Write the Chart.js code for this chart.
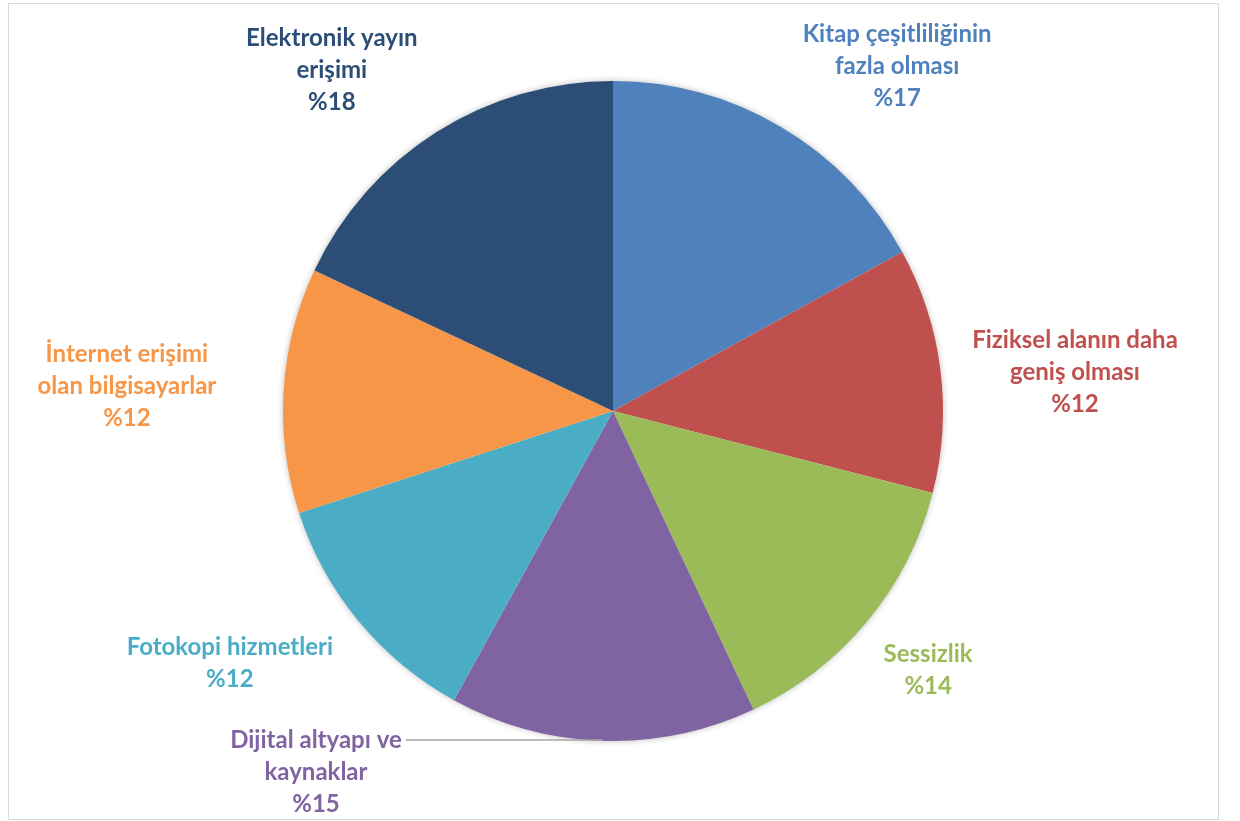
<!DOCTYPE html>
<html>
<head>
<meta charset="utf-8">
<script src="https://cdn.jsdelivr.net/npm/chart.js@4.4.1/dist/chart.umd.min.js"></script>
<style>
  html, body { margin: 0; padding: 0; background: #fff; }
  #wrap { position: relative; width: 1240px; height: 821px; }
  #frame { position: absolute; left: 8px; top: 3px; width: 1209px; height: 815px; border: 1px solid #d9d9d9; pointer-events: none; }
</style>
</head>
<body>
<div id="wrap">
  <canvas id="c" width="1240" height="821"></canvas>
  <div id="frame"></div>
</div>
<script>
// Data
const categories = [
  ["Kitap çeşitliliğinin", "fazla olması"],
  ["Fiziksel alanın daha", "geniş olması"],
  ["Sessizlik"],
  ["Dijital altyapı ve", "kaynaklar"],
  ["Fotokopi hizmetleri"],
  ["İnternet erişimi", "olan bilgisayarlar"],
  ["Elektronik yayın", "erişimi"]
];
const values = [17, 12, 14, 15, 12, 12, 18];
const sliceColors = ["#4F81BD", "#C0504D", "#9BBB59", "#8064A2", "#4BACC6", "#F79646", "#2C4D75"];

// Label layout (text block center relative to pie center, in radius units)
const labelLayout = [
  { dx: 0.861, dy: -1.045 },
  { dx: 1.400, dy: -0.118 },
  { dx: 0.955, dy: 0.785 },
  { dx: -0.900, dy: 1.094, leader: true },
  { dx: -1.161, dy: 0.764 },
  { dx: -1.473, dy: -0.076 },
  { dx: -0.852, dy: -1.033 }
];

const FONT = "bold 24px Lato, 'Open Sans', sans-serif";
const LINE_H = 32;

const pieShadow = {
  id: 'pieShadow',
  beforeDatasetsDraw(chart) {
    const arc = chart.getDatasetMeta(0).data[0];
    if (!arc) return;
    const ctx = chart.ctx;
    ctx.save();
    ctx.shadowColor = 'rgba(0,0,0,0.35)';
    ctx.shadowBlur = 7;
    ctx.shadowOffsetX = 0;
    ctx.shadowOffsetY = 0;
    ctx.fillStyle = '#ffffff';
    ctx.beginPath();
    ctx.arc(arc.x, arc.y, arc.outerRadius - 1, 0, Math.PI * 2);
    ctx.fill();
    ctx.restore();
  }
};

const outerLabels = {
  id: 'outerLabels',
  afterDatasetsDraw(chart) {
    const meta = chart.getDatasetMeta(0);
    const ctx = chart.ctx;
    ctx.save();
    ctx.font = FONT;
    ctx.textAlign = 'center';
    ctx.textBaseline = 'middle';
    meta.data.forEach((arc, i) => {
      const r = arc.outerRadius;
      const lay = labelLayout[i];
      const cx = arc.x + lay.dx * r;
      const cy = arc.y + lay.dy * r;
      const lines = categories[i].concat(['%' + values[i]]);
      const top = cy - (lines.length - 1) * LINE_H / 2;
      ctx.fillStyle = sliceColors[i];
      lines.forEach((t, k) => ctx.fillText(t, cx, top + k * LINE_H));
      if (lay.leader) {
        const mid = (arc.startAngle + arc.endAngle) / 2;
        const ex = arc.x + Math.cos(mid) * r;
        const w = ctx.measureText(lines[0]).width;
        ctx.strokeStyle = '#a6a6a6';
        ctx.lineWidth = 1.5;
        ctx.beginPath();
        ctx.moveTo(cx + w / 2 + 4, top);
        ctx.lineTo(ex, top);
        ctx.stroke();
      }
    });
    ctx.restore();
  }
};

new Chart(document.getElementById('c'), {
  type: 'pie',
  data: {
    labels: categories.map(l => l.join(' ')),
    datasets: [{
      data: values,
      backgroundColor: sliceColors,
      borderWidth: 0
    }]
  },
  options: {
    responsive: false,
    animation: false,
    layout: { padding: { left: 283, right: 297, top: 81, bottom: 80 } },
    plugins: {
      legend: { display: false },
      tooltip: { enabled: false }
    }
  },
  plugins: [pieShadow, outerLabels]
});
</script>
</body>
</html>
